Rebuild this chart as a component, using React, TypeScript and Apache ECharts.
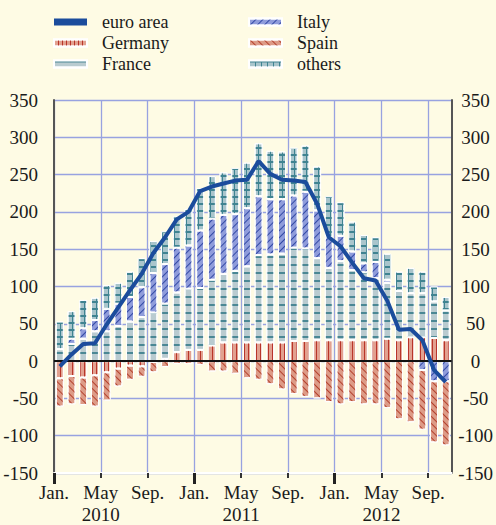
import React, { useEffect, useRef } from 'react';
import * as echarts from 'echarts';

const months: string[] = [
  '2010-01','2010-02','2010-03','2010-04','2010-05','2010-06','2010-07','2010-08','2010-09','2010-10','2010-11','2010-12',
  '2011-01','2011-02','2011-03','2011-04','2011-05','2011-06','2011-07','2011-08','2011-09','2011-10','2011-11','2011-12',
  '2012-01','2012-02','2012-03','2012-04','2012-05','2012-06','2012-07','2012-08','2012-09','2012-10',
];
const tickNames = ['Jan.', 'May', 'Sep.'];
const years = ['2010', '2011', '2012'];
const yTicks = [-150, 350, 50]; // min, max, step

const germany = [-23,-20,-22,-19,-15,-10,-6,-7,-1,3,12,15,15,21,25,25,25,25,25,25,27,27,28,28,28,28,28,28,30,28,32,32,31,28];
const france = [16,23,30,40,40,47,53,59,65,74,80,82,83,88,92,96,102,117,118,119,125,124,110,97,106,94,91,83,75,66,59,59,49,40];
const italy = [0,7,14,15,30,30,33,40,53,53,60,58,77,82,79,76,78,79,74,73,70,76,64,41,34,25,12,22,4,0,0,-12,-27,-27];
const spain = [-38,-38,-37,-42,-38,-24,-19,-14,-14,-8,-4,-4,-5,-14,-14,-17,-23,-25,-31,-38,-44,-48,-50,-55,-58,-55,-58,-58,-63,-78,-82,-80,-82,-86];
const others = [37,37,38,30,32,28,34,39,43,44,42,49,57,57,57,62,61,71,65,64,64,62,59,55,45,40,38,33,35,26,34,29,20,18];
const euroArea = [-7,9,23,24,49,72,95,117,145,166,190,200,228,234,238,242,243,268,251,243,242,240,211,166,154,132,111,108,81,42,43,28,-12,-28];

const FONT = '"Liberation Serif", "DejaVu Serif", serif';
const TEXT = '#1a1a1a';
const GRIDC = '#98a2e0';

const vLines = (color: string, rotation = 0, gap = 3) => ({
  symbol: 'rect', symbolSize: 1, color, dashArrayX: [1, gap], dashArrayY: [4, 0], rotation,
});
const hLines = (color: string, gap = 5) => ({
  symbol: 'rect', symbolSize: 1, color, dashArrayX: [4, 0], dashArrayY: [1.2, gap], rotation: 0,
});
const gridLines = (color: string) => ({
  symbol: 'rect', symbolSize: 1, color,
  dashArrayX: [[6, 0], [1, 5]], dashArrayY: [1.2, 0, 5, 0], rotation: 0,
});

const barBase = {
  type: 'bar' as const,
  stack: 'total',
  barWidth: 8,
  xAxisIndex: 0,
  yAxisIndex: 0,
};

const legendText = {
  fontFamily: FONT, fontSize: 18, lineHeight: 18, color: TEXT,
  rich: { t: { fontFamily: FONT, fontSize: 18, lineHeight: 18, color: TEXT, padding: [0, 0, 0, 10] } },
};

export default function App() {
  const ref = useRef<HTMLDivElement>(null);
  useEffect(() => {
    const chart = echarts.init(ref.current!, null, { renderer: 'svg' });
    const n = months.length;
    const option: any = {
      animation: false,
      backgroundColor: '#fefbe4',
      textStyle: { fontFamily: FONT },
      grid: { left: 54, right: 43, top: 100, bottom: 48, containLabel: false },
      legend: [
        {
          orient: 'vertical', left: 53, top: 13, padding: 0, itemWidth: 33, itemHeight: 7, itemGap: 3,
          selectedMode: false, formatter: '{t|{name}}',
          data: [{ name: 'euro area', icon: 'rect' }, { name: 'Germany', icon: 'rect' }, { name: 'France', icon: 'rect' }],
          textStyle: legendText,
        },
        {
          orient: 'vertical', left: 248, top: 13, padding: 0, itemWidth: 33, itemHeight: 7, itemGap: 3,
          selectedMode: false, formatter: '{t|{name}}',
          data: [{ name: 'Italy', icon: 'rect' }, { name: 'Spain', icon: 'rect' }, { name: 'others', icon: 'rect' }],
          textStyle: legendText,
        },
      ],
      xAxis: [
        {
          type: 'category', data: months, boundaryGap: true, show: true,
          axisLine: { show: false }, axisTick: { show: false }, axisLabel: { show: false }, splitLine: { show: false },
        },
        {
          type: 'value', min: 0, max: n, interval: 4, position: 'bottom',
          axisLine: { show: true, onZero: false, lineStyle: { color: '#ffffff', width: 2 } },
          axisTick: { show: true, length: 5, lineStyle: { color: '#333', width: 2 }, customValues: [0, 4, 8, 12, 16, 20, 24, 28, 32] },
          axisLabel: {
            fontFamily: FONT, fontSize: 19, color: TEXT, margin: 8, lineHeight: 22,
            customValues: [0, 4, 8, 12, 16, 20, 24, 28, 32],
            formatter: (v: number) => {
              const m = Math.round(v) % 12;
              if (Math.round(v) % 4 !== 0 || v >= n) return '';
              const name = tickNames[m / 4];
              if (m === 4) return name + '\n' + years[Math.floor(v / 12)];
              return name;
            },
          },
          splitLine: { show: true, lineStyle: { color: GRIDC, width: 1.3 } },
        },
        {
          type: 'value', min: 0, max: n, interval: 12, position: 'bottom',
          axisLine: { show: false, onZero: false },
          axisTick: { show: true, length: 11, lineStyle: { color: '#222', width: 3 }, customValues: [0, 12, 24] },
          axisLabel: { show: false },
          splitLine: { show: false },
        },
      ],
      yAxis: [
        {
          type: 'value', min: yTicks[0], max: yTicks[1], interval: yTicks[2], position: 'left',
          axisLine: { show: true, onZero: false, lineStyle: { color: '#555', width: 2 } },
          axisTick: { show: false },
          axisLabel: { fontFamily: FONT, fontSize: 19, color: TEXT, margin: 16 },
          splitLine: { show: true, lineStyle: { color: GRIDC, width: 1.3 } },
        },
        {
          type: 'value', min: yTicks[0], max: yTicks[1], interval: yTicks[2], position: 'right',
          axisLine: { show: true, onZero: false, lineStyle: { color: '#555', width: 2 } },
          axisTick: { show: false },
          axisLabel: { fontFamily: FONT, fontSize: 19, color: TEXT, margin: 24, align: 'center' },
          splitLine: { show: false },
        },
      ],
      series: [
        {
          ...barBase, name: 'Germany', data: germany,
          itemStyle: { color: '#e2a190', borderColor: '#ffffff', borderWidth: 1, decal: vLines('#b8352a', 0, 3) },
        },
        {
          ...barBase, name: 'France', data: france,
          itemStyle: { color: '#b9cbd0', borderColor: '#ffffff', borderWidth: 1, decal: hLines('#4a8794', 5.5) },
        },
        {
          ...barBase, name: 'Italy', data: italy,
          itemStyle: { color: '#8f9cdb', borderColor: '#ffffff', borderWidth: 1, decal: vLines('#3148a4', Math.PI / 4, 4) },
        },
        {
          ...barBase, name: 'Spain', data: spain,
          itemStyle: { color: '#dd9b87', borderColor: '#ffffff', borderWidth: 1, decal: vLines('#b3402d', -Math.PI / 4, 4) },
        },
        {
          ...barBase, name: 'others', data: others,
          itemStyle: { color: '#a9c5cc', borderColor: '#ffffff', borderWidth: 1, decal: gridLines('#3f8391') },
        },
        {
          type: 'line', name: 'euro area', data: euroArea, xAxisIndex: 0, yAxisIndex: 0,
          symbol: 'none', z: 10,
          lineStyle: { color: '#1b4c9c', width: 4 },
          itemStyle: { color: '#1b4c9c' },
          markLine: {
            silent: true, symbol: ['none', 'none'], label: { show: false },
            lineStyle: { color: '#111', width: 2, type: 'solid' },
            data: [{ yAxis: 0 }],
          },
        },
      ],
    };
    chart.setOption(option);
    return () => chart.dispose();
  }, []);
  return <div ref={ref} style={{ position: 'fixed', left: 0, top: 0, width: 496, height: 525 }} />;
}
